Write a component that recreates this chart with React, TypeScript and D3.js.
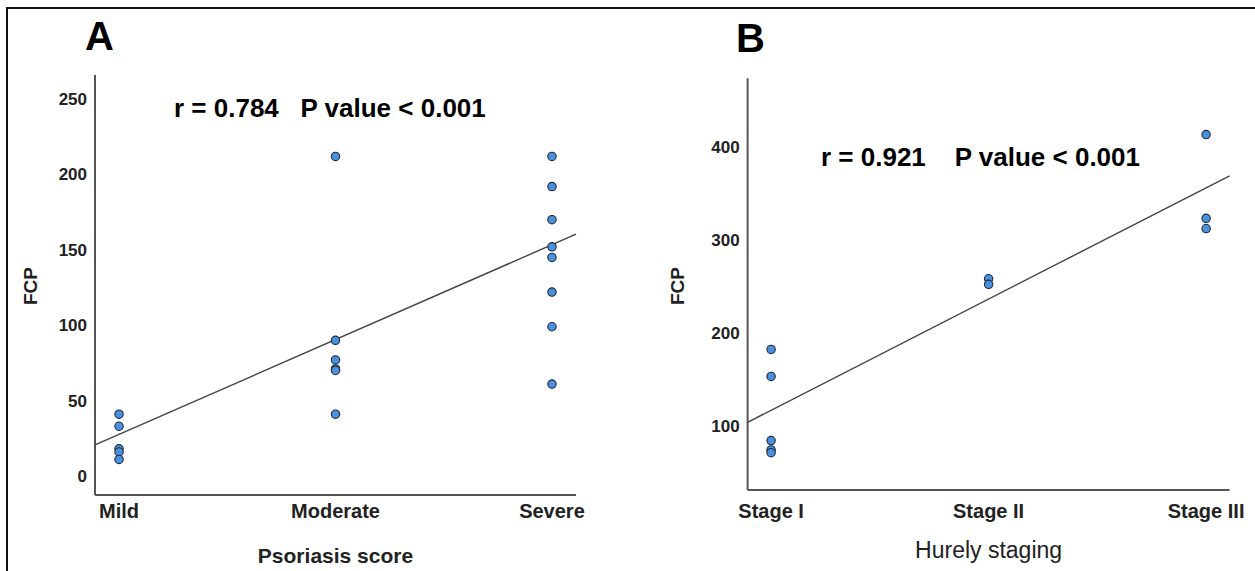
import React from "react";
import * as d3 from "d3";

// ---- Panel A data ----
const categoriesA = ["Mild", "Moderate", "Severe"];
const mildA = [41, 33, 18, 16, 11];
const moderateA = [212, 90, 77, 71, 70, 41];
const severeA = [212, 192, 170, 152, 145, 122, 99, 61];
const ticksA = [0, 50, 100, 150, 200, 250];
const fitA = [27.6, 62.9]; // value at first category, slope per category

// ---- Panel B data ----
const categoriesB = ["Stage I", "Stage II", "Stage III"];
const stageIB = [182, 153, 84, 74, 71];
const stageIIB = [258, 252];
const stageIIIB = [413, 323, 312];
const ticksB = [100, 200, 300, 400];
const fitB = [116.6, 119.6];

const FONT = "'Liberation Sans', Arial, sans-serif";

type PanelProps = {
  letter: string;
  letterX: number;
  letterY: number;
  categories: string[];
  groups: number[][];
  ticks: number[];
  fit: number[];
  x: d3.ScaleLinear<number, number>;
  y: d3.ScaleLinear<number, number>;
  annotation: string;
  annX: number;
  annY: number;
  yTitleX: number;
  xTitle: string;
  xTitleWeight: string | number;
  xTitleSize: number;
  xTitleY: number;
};

function Panel(p: PanelProps) {
  const [x0, x1] = p.x.range();
  const [y0, y1] = p.y.range();
  const [d0, d1] = p.x.domain();
  const line = d3
    .line<number>()
    .x((d) => p.x(d))
    .y((d) => p.y(p.fit[0] + p.fit[1] * (d - 1)));
  const points: { cx: number; cy: number }[] = [];
  p.groups.forEach((g, i) => g.forEach((v) => points.push({ cx: p.x(i + 1), cy: p.y(v) })));
  const xMid = (x0 + x1) / 2;
  return (
    <g fontFamily={FONT}>
      <text x={p.letterX} y={p.letterY} fontSize={40} fontWeight="bold" fill="#000">
        {p.letter}
      </text>
      {/* axes */}
      <line x1={x0} x2={x0} y1={y0} y2={y1} stroke="#555" strokeWidth={2} />
      <line x1={x0} x2={x1} y1={y0} y2={y0} stroke="#555" strokeWidth={2} />
      {p.ticks.map((t) => (
        <text key={t} x={x0 - 8} y={p.y(t)} dy="0.35em" textAnchor="end" fontSize={17} fontWeight="bold" fill="#222">
          {t}
        </text>
      ))}
      {p.categories.map((c, i) => (
        <text key={c} x={p.x(i + 1)} y={518} textAnchor="middle" fontSize={20} fontWeight="bold" fill="#222">
          {c}
        </text>
      ))}
      <text x={xMid} y={p.xTitleY} textAnchor="middle" fontSize={p.xTitleSize} fontWeight={p.xTitleWeight} fill="#222">
        {p.xTitle}
      </text>
      <text
        transform={`translate(${p.yTitleX},286) rotate(-90)`}
        dy="0.35em"
        textAnchor="middle"
        fontSize={19}
        fontWeight="bold"
        fill="#222"
      >
        FCP
      </text>
      {/* fit line */}
      <path d={line([d0, d1]) || ""} fill="none" stroke="#444" strokeWidth={1.4} />
      {points.map((pt, i) => (
        <circle key={i} cx={pt.cx} cy={pt.cy} r={4.2} fill="#4b8fdf" stroke="#1e2a3a" strokeWidth={1.1} />
      ))}
      <text x={p.annX} y={p.annY} fontSize={26} fontWeight="bold" fill="#000" style={{ whiteSpace: "pre" }}>
        {p.annotation}
      </text>
    </g>
  );
}

export default function App() {
  const xA = d3.scaleLinear().domain([0.889, 3.111]).range([95, 576]);
  const yA = d3.scaleLinear().domain([-12.6, 266]).range([495, 75]);
  const xB = d3.scaleLinear().domain([0.892, 3.108]).range([747.6, 1229.6]);
  const yB = d3.scaleLinear().domain([30.9, 473.5]).range([490, 78.3]);
  return (
    <div style={{ position: "absolute", left: 0, top: 0, width: 1255, height: 571, background: "#fff" }}>
      <svg width={1255} height={571} style={{ display: "block" }}>
        <rect x={0} y={0} width={1255} height={571} fill="#fff" />
        <line x1={7} x2={1255} y1={8} y2={8} stroke="#111" strokeWidth={2} />
        <line x1={7} x2={7} y1={7} y2={571} stroke="#111" strokeWidth={2} />
        <Panel
          letter="A"
          letterX={85}
          letterY={50}
          categories={categoriesA}
          groups={[mildA, moderateA, severeA]}
          ticks={ticksA}
          fit={fitA}
          x={xA}
          y={yA}
          annotation={"r = 0.784   P value < 0.001"}
          annX={174}
          annY={117}
          yTitleX={30}
          xTitle="Psoriasis score"
          xTitleWeight="bold"
          xTitleSize={21}
          xTitleY={563}
        />
        <Panel
          letter="B"
          letterX={736}
          letterY={52}
          categories={categoriesB}
          groups={[stageIB, stageIIB, stageIIIB]}
          ticks={ticksB}
          fit={fitB}
          x={xB}
          y={yB}
          annotation={"r = 0.921    P value < 0.001"}
          annX={821}
          annY={166}
          yTitleX={677}
          xTitle="Hurely staging"
          xTitleWeight="normal"
          xTitleSize={23}
          xTitleY={558}
        />
      </svg>
    </div>
  );
}
